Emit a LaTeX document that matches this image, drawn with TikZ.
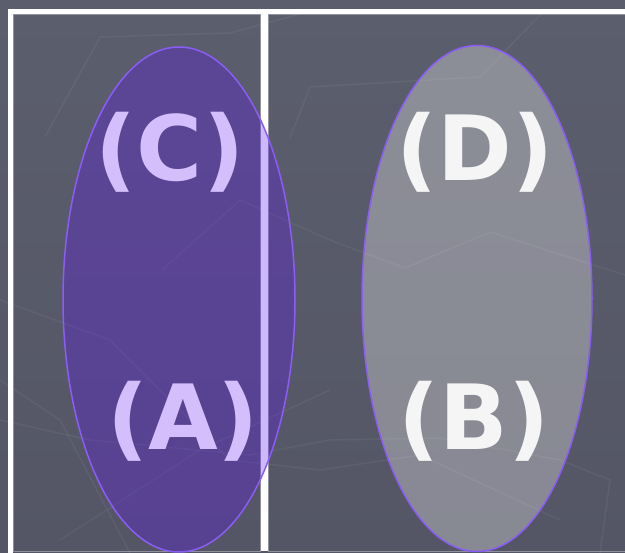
\documentclass[tikz,border=0pt]{standalone}
\usepackage{fontspec}
\setmainfont{DejaVu Sans}
\definecolor{bgtop}{HTML}{5B5E6C}
\definecolor{bgbot}{HTML}{545665}
\definecolor{violetline}{HTML}{8B5CF6}
\definecolor{violetfill}{RGB}{95,20,247}
\definecolor{lilac}{HTML}{D4BFFC}
\definecolor{offwhite}{HTML}{F5F5F5}
\definecolor{texture}{HTML}{FFFFFF}
\tikzset{
  frameline/.style={draw=white, line width=5pt},
  midbar/.style={draw=white, line width=7.6pt},
  innerline/.style={draw=white, draw opacity=0.35, line width=1pt},
  faint/.style={draw=texture, draw opacity=0.05, line width=1.5pt},
  blob/.style={ellipse, draw=violetline, line width=1.5pt},
  purpleblob/.style={blob, fill=violetfill, fill opacity=0.3},
  grayblob/.style={blob, fill=white, fill opacity=0.3},
  biglabel/.style={font=\bfseries\fontsize{90}{90}\selectfont, inner sep=0pt, anchor=base},
}
\usetikzlibrary{shapes.geometric}
\begin{document}
\begin{tikzpicture}[x=1pt,y=-1pt]
\useasboundingbox (0,0) rectangle (625,553);
\shade[top color=bgtop, bottom color=bgbot] (0,0) rectangle (625,553);
% faint background texture
\draw[faint] (45,137) -- (100,37) -- (230,33) -- (300,14);
\draw[faint] (290,138) -- (310,87) -- (480,77) -- (540,15);
\draw[faint] (162,270) -- (240,200) -- (330,240) -- (405,268) -- (490,232) -- (625,275);
\draw[faint] (0,300) -- (110,340) -- (230,460) -- (320,470) -- (420,455) -- (560,520);
\draw[faint] (0,420) -- (90,440) -- (250,455) -- (330,440) -- (440,438) -- (560,460) -- (610,480) -- (600,553);
\draw[faint] (60,540) -- (200,450) -- (330,390);
\draw[faint] (0,380) -- (60,420) -- (130,553);
% frame
\draw[innerline] (13.5,14.5) rectangle (260,552);
\draw[innerline] (268,14.5) rectangle (630,552);
\draw[frameline] (10.8,9) -- (10.8,560);
\draw[frameline] (8.3,11.5) -- (630,11.5);
\draw[midbar] (264.5,14) -- (264.5,551);
% ellipses
\node[purpleblob, minimum width=232pt, minimum height=505pt] (left) at (179,299.5) {};
\node[grayblob, minimum width=230pt, minimum height=506pt] (right) at (477,298.5) {};
% labels
\node[biglabel, text=lilac] (c) at (170,181) {(C)};
\node[biglabel, text=lilac] (a) at (183,450) {(A)};
\node[biglabel, text=offwhite] (d) at (475,181) {(D)};
\node[biglabel, text=offwhite] (b) at (474,450) {(B)};
\end{tikzpicture}
\end{document}
